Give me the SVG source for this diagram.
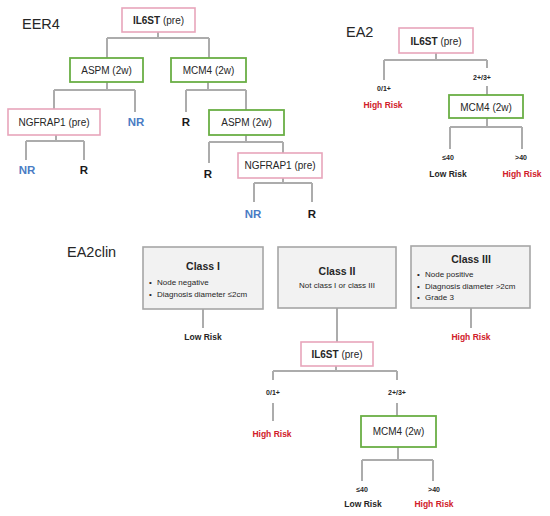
<svg xmlns="http://www.w3.org/2000/svg" width="550" height="516" viewBox="0 0 550 516">
<style>
text{font-family:"Liberation Sans",Arial,sans-serif;fill:#262626}
.title{font-size:14.5px}
.bx{font-size:10px;text-anchor:middle}
.b{font-weight:bold}
.pink{fill:#fff;stroke:#e8a5bb;stroke-width:1.6}
.green{fill:#fff;stroke:#6aaf45;stroke-width:1.8}
.cls{fill:#f2f2f2;stroke:#a6a6a6;stroke-width:1.6}
.con path{fill:none;stroke:#acacac;stroke-width:2}
.nr{font-size:11.5px;font-weight:bold;fill:#4a7cc4;text-anchor:middle}
.r{font-size:11.5px;font-weight:bold;fill:#1a1a1a;text-anchor:middle}
.risk{font-size:8.5px;font-weight:bold;text-anchor:middle}
.hi{fill:#d0202a}
.sm{font-size:7px;font-weight:bold;text-anchor:middle}
.ct{font-size:10.5px;font-weight:bold;text-anchor:middle}
.bul{font-size:8px}
</style>

<text class="title" x="22" y="29">EER4</text>
<text class="title" x="346" y="37">EA2</text>
<text class="title" x="67" y="257">EA2clin</text>

<g id="connectors" class="con">
<path d="M158,32V38M107,38H209M107,38V58M209,38V58"/>
<path d="M107,82V90M54,90H135M54,90V109M135,90V112"/>
<path d="M56,135V141M26,141H84M26,141V160M84,141V160"/>
<path d="M208,82V90M186,90H246M186,90V112M246,90V110"/>
<path d="M246,135V142M209,142H283M209,142V163M283,142V153"/>
<path d="M283,178V183M254,183H312M254,183V202M312,183V202"/>
<path d="M436,53V60M384,60H487M384,60V80M487,60V68M487,86V95"/>
<path d="M487,118V127M450,127H522M450,127V149M522,127V149"/>
<path d="M203,309V328M337,308V342M471,308V328"/>
<path d="M336,366V371M273,371H397M273,371V380M273,403V421M397,371V380M397,403V416"/>
<path d="M398,447V460M362,460H433M362,460V481M433,460V481"/>
</g>

<g id="eer4_il6st"><rect class="pink" x="122" y="8" width="73" height="24"/><text class="bx" x="158.5" y="23.5"><tspan class="b">IL6ST</tspan> (pre)</text></g>
<g id="eer4_aspm"><rect class="green" x="70" y="58" width="73" height="24"/><text class="bx" x="106.5" y="73.5">ASPM (2w)</text></g>
<g id="eer4_mcm4"><rect class="green" x="171" y="58" width="75" height="24"/><text class="bx" x="208.5" y="73.5">MCM4 (2w)</text></g>
<g id="eer4_ngfrap1"><rect class="pink" x="8" y="109" width="92" height="26"/><text class="bx" x="54" y="125.5">NGFRAP1 (pre)</text></g>
<g id="eer4_aspm2"><rect class="green" x="209" y="110" width="75" height="25"/><text class="bx" x="246.5" y="126">ASPM (2w)</text></g>
<g id="eer4_ngfrap1_2"><rect class="pink" x="238" y="153" width="84" height="25"/><text class="bx" x="280" y="169">NGFRAP1 (pre)</text></g>
<g id="eer4_leaves">
<text class="nr" x="136" y="126">NR</text>
<text class="r" x="186" y="126">R</text>
<text class="nr" x="27" y="174">NR</text>
<text class="r" x="84" y="174">R</text>
<text class="r" x="208" y="178">R</text>
<text class="nr" x="253" y="218">NR</text>
<text class="r" x="312" y="218">R</text>
</g>

<g id="ea2_il6st"><rect class="pink" x="399" y="28" width="74" height="25"/><text class="bx" x="436" y="44.5"><tspan class="b">IL6ST</tspan> (pre)</text></g>
<g id="ea2_mcm4"><rect class="green" x="449" y="95" width="74" height="23"/><text class="bx" x="486" y="110.5">MCM4 (2w)</text></g>
<g id="ea2_labels">
<text class="sm" x="384" y="91">0/1+</text>
<text class="sm" x="482" y="80">2+/3+</text>
<text class="risk hi" x="383" y="108">High Risk</text>
<text class="sm" x="448" y="160">≤40</text>
<text class="sm" x="521" y="160">&gt;40</text>
<text class="risk" x="448" y="177">Low Risk</text>
<text class="risk hi" x="522" y="177">High Risk</text>
</g>

<g id="class1"><rect class="cls" x="143" y="247" width="120" height="62"/>
<text class="ct" x="203" y="270">Class I</text>
<text class="bul" x="149" y="285">•</text><text class="bul" x="157" y="285">Node negative</text>
<text class="bul" x="149" y="297">•</text><text class="bul" x="157" y="297">Diagnosis diameter ≤2cm</text>
</g>
<g id="class2"><rect class="cls" x="278" y="247" width="118" height="61"/>
<text class="ct" x="337" y="275">Class II</text>
<text class="bul" x="337" y="288" text-anchor="middle">Not class I or class III</text>
</g>
<g id="class3"><rect class="cls" x="411" y="246" width="119" height="62"/>
<text class="ct" x="471" y="263">Class III</text>
<text class="bul" x="417" y="277">•</text><text class="bul" x="425" y="277">Node positive</text>
<text class="bul" x="417" y="289">•</text><text class="bul" x="425" y="289">Diagnosis diameter &gt;2cm</text>
<text class="bul" x="417" y="300">•</text><text class="bul" x="425" y="300">Grade 3</text>
</g>
<g id="clin_il6st"><rect class="pink" x="301" y="342" width="72" height="24"/><text class="bx" x="337" y="358"><tspan class="b">IL6ST</tspan> (pre)</text></g>
<g id="clin_mcm4"><rect class="green" x="361" y="416" width="75" height="31"/><text class="bx" x="398.5" y="435">MCM4 (2w)</text></g>
<g id="clin_labels">
<text class="risk" x="203" y="340">Low Risk</text>
<text class="risk hi" x="471" y="340">High Risk</text>
<text class="sm" x="273" y="395">0/1+</text>
<text class="sm" x="397" y="395">2+/3+</text>
<text class="risk hi" x="272" y="437">High Risk</text>
<text class="sm" x="362" y="492">≤40</text>
<text class="sm" x="434" y="492">&gt;40</text>
<text class="risk" x="363" y="507">Low Risk</text>
<text class="risk hi" x="434" y="507">High Risk</text>
</g>
</svg>
